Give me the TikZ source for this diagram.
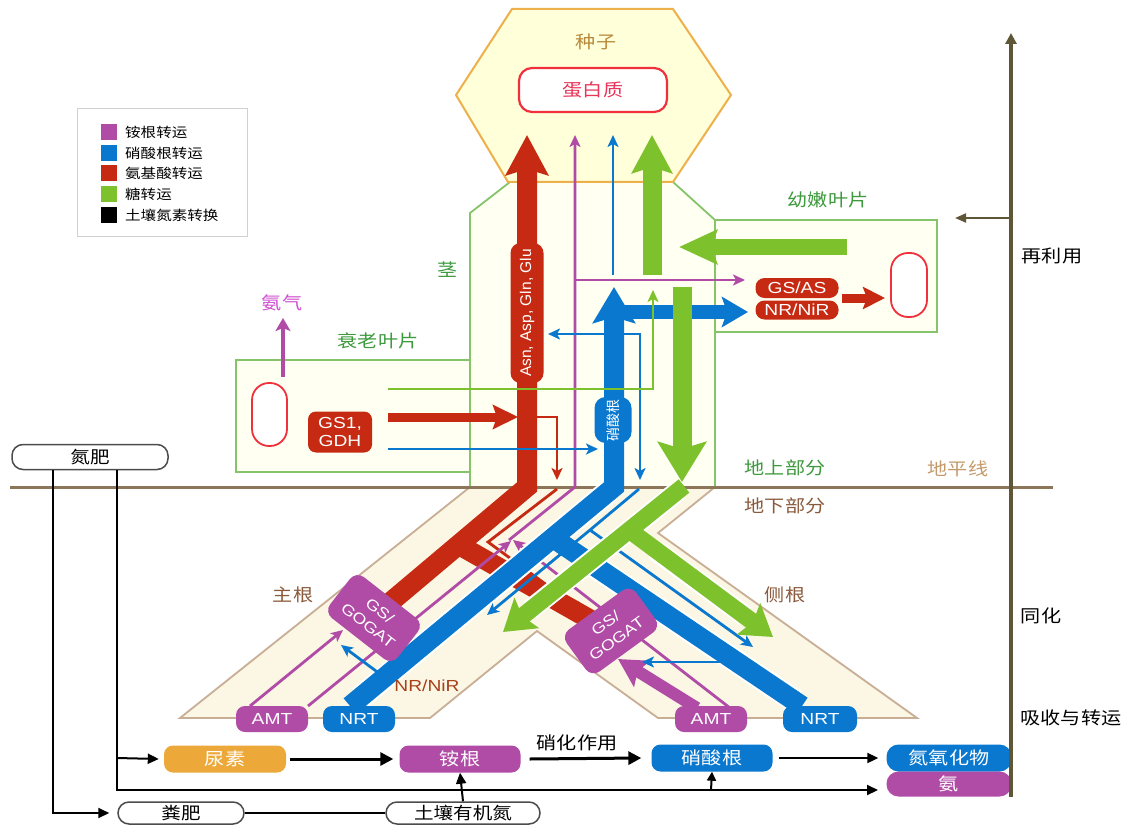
\documentclass[tikz,border=0pt]{standalone}
\usepackage{fontspec}
\usepackage{graphicx}
\setmainfont[FakeStretch=1.2]{Liberation Sans}
\newfontfamily\latn{Liberation Sans}
\newfontfamily\cjk[FakeStretch=1.15]{Noto Sans CJK SC}
\newfontfamily\cjkr{Noto Sans CJK SC}
\usetikzlibrary{arrows.meta}
\definecolor{cred}{HTML}{C62A12}
\definecolor{cblue}{HTML}{0A78CF}
\definecolor{cmag}{HTML}{B04CA6}
\definecolor{cgreen}{HTML}{7DC12C}
\definecolor{tgreen}{HTML}{3D9A3D}
\definecolor{tbrown}{HTML}{8B5A3C}
\definecolor{ttan}{HTML}{C49A6C}
\definecolor{seedfill}{HTML}{FFFFD9}
\definecolor{seededge}{HTML}{EDB04A}
\definecolor{stemfill}{HTML}{FFFFF2}
\definecolor{stemedge}{HTML}{86C46A}
\definecolor{rootfill}{HTML}{FBF7E4}
\definecolor{rootedge}{HTML}{C9AE96}
\definecolor{groundc}{HTML}{8C7558}
\definecolor{axisc}{HTML}{5E5636}
\definecolor{corange}{HTML}{ECA93A}
\definecolor{pinkred}{HTML}{E8365A}
\definecolor{goldc}{HTML}{B8893B}
\definecolor{ammc}{HTML}{D050D0}
\definecolor{nrbrown}{HTML}{A8401A}
\definecolor{vacred}{HTML}{F0303C}
\tikzset{
  cn/.style={font=\cjk\fontsize{17.5}{20}\selectfont, inner sep=0pt},
  cnl/.style={font=\cjk\fontsize{13.5}{16}\selectfont, inner sep=0pt, anchor=west},
  lt/.style={font=\fontsize{16}{18}\selectfont},
  pill/.style={rounded corners=9pt, inner sep=0pt, text=white},
  tipthin/.style={-{Stealth[length=12pt,width=11pt,inset=3pt]}},
  thinline/.style={line width=2.8pt, tipthin},
  soil/.style={draw=black!70, line width=1.5pt, fill=white, rounded corners=11pt, inner sep=0pt, font=\cjk\fontsize{17}{19}\selectfont},
  blk/.style={line width=2pt, draw=black},
  casing/.style={draw=white, line width=#1},
  gsbox/.style={pill, fill=cmag, align=center, minimum width=86pt, minimum height=52pt, rounded corners=10pt, font=\fontsize{15}{19}\selectfont},
}
\begin{document}
\begin{tikzpicture}[x=1pt,y=-1pt]
\useasboundingbox (0,0) rectangle (1126,826);
\fill[white] (0,0) rectangle (1126,826);

% ---------- legend ----------
\draw[black!18, line width=1pt] (77,109) rectangle (247,237);
\foreach \c/\t/\yy in {cmag/铵根转运/132, cblue/硝酸根转运/153, cred/氨基酸转运/173, cgreen/糖转运/194, black/土壤氮素转换/215} {
  \fill[\c] (101,\yy-8) rectangle (117,\yy+8);
  \node[cnl] (lg\yy) at (125,\yy) {\t};
}

% ---------- stem and leaves ----------
\draw[stemedge, fill=stemfill, line width=1.8pt] (236,360) rectangle (470,472);
\draw[stemedge, fill=stemfill, line width=1.8pt] (715,220) rectangle (937,332);
\draw[stemedge, fill=stemfill, line width=1.8pt] (510,182) -- (673,182) -- (715,220) -- (715,487) -- (470,487) -- (470,213) -- cycle;

% ---------- seed ----------
\draw[seededge, fill=seedfill, line width=2pt] (512,9) -- (673,9) -- (731,95) -- (673,182) -- (508,182) -- (456,95) -- cycle;
\node[cn, text=goldc] (seed) at (596,42) {种子};
\node[draw=vacred, line width=2.2pt, fill=white, rounded corners=13pt, minimum width=148pt, minimum height=44pt, inner sep=0pt, cn, text=pinkred] (prot) at (593,90) {蛋白质};

% ---------- roots ----------
\draw[rootedge, fill=rootfill, line width=1.8pt] (470,487) -- (715,487) -- (658,533) -- (917,718) -- (658,718) -- (537,631) -- (430,718) -- (180,718) -- cycle;

% ---------- ground line ----------
\draw[groundc, line width=3pt] (10,487) -- (1053,487);

% ---------- red (amino acids) ----------
\draw[cred, line width=20pt, -{Stealth[length=40pt,width=42pt,inset=6pt]}] (374,616) -- (527,487) -- (527,135);
\draw[cred, line width=20pt] (459,545) -- (612,632);
\draw[cred, line width=9pt, -{Stealth[length=25pt,width=24pt,inset=4pt]}] (388,417) -- (518,417);
\draw[cred, thinline] (527,417) -- (557,417) -- (557,480);
\draw[cred, thinline] (557,489) -- (488,542) -- (585,613);
\draw[cred, line width=9pt, -{Stealth[length=22pt,width=22pt,inset=4pt]}] (842,298) -- (885,298);

% ---------- magenta (ammonium) ----------
\draw[cmag, thinline] (509,540) -- (575,487) -- (575,135);
\draw[cmag, thinline] (575,280) -- (745,280);
\draw[cmag, thinline] (308,706) -- (511,541);
\draw[cmag, thinline] (250,706) -- (343,630);
\draw[cmag, thinline] (730,708) -- (513,540);
\draw[cmag, line width=12pt, -{Stealth[length=28pt,width=30pt,inset=5pt]}] (697,708) -- (618,659);
\draw[cmag, line width=4pt, -{Stealth[length=13pt,width=15pt,inset=3pt]}] (283,377) -- (283,318);

% ---------- blue (nitrate) ----------
\draw[casing=24pt] (608,492) -- (360,698);
\draw[cblue, line width=20pt, -{Stealth[length=36pt,width=42pt,inset=6pt]}] (350,706) -- (614,487) -- (614,287);
\draw[casing=24pt] (585,560) -- (795,701);
\draw[cblue, line width=20pt] (553,538) -- (802,706);
\draw[cblue, line width=14pt, -{Stealth[length=26pt,width=30pt,inset=5pt]}] (614,312) -- (748,312);
\draw[cblue, line width=2.8pt, {Stealth[length=12pt,width=11pt,inset=3pt]}-{Stealth[length=12pt,width=11pt,inset=3pt]}] (548,334) -- (640,334) -- (640,480);
\draw[cblue, thinline] (388,449) -- (598,449);
\draw[cblue, thinline] (613,275) -- (613,135);
\draw[cblue, thinline] (639,489) -- (590,530) -- (487,615);
\draw[cblue, thinline] (590,530) -- (753,647);
\draw[cblue, thinline] (380,674) -- (341,645);
\draw[cblue, thinline] (730,662) -- (642,662);

% ---------- green (sugar) ----------
\draw[cgreen, line width=19pt, -{Stealth[length=38pt,width=40pt,inset=6pt]}] (652,275) -- (652,135);
\draw[cgreen, line width=16pt, -{Stealth[length=38pt,width=34pt,inset=6pt]}] (847,247) -- (679,247);
\draw[cgreen, line width=19pt, -{Stealth[length=40pt,width=48pt,inset=7pt]}] (682,287) -- (682,482);
\draw[casing=21pt] (678,491) -- (530,610);
\draw[cgreen, line width=17pt, -{Stealth[length=30pt,width=38pt,inset=5pt]}] (684,486) -- (503,632);
\draw[casing=21pt] (655,550) -- (745,616);
\draw[cgreen, line width=17pt, -{Stealth[length=30pt,width=38pt,inset=5pt]}] (629,530) -- (773,637);
\draw[cgreen, thinline] (388,389) -- (653,389) -- (653,290);

% ---------- boxes on the flows ----------
\node[pill, fill=cred, font=\latn\fontsize{15.5}{17}\selectfont, rotate=90, minimum width=140pt, minimum height=33pt, rounded corners=10pt] (aa) at (527,313) {Asn, Asp, Gln, Glu};
\node[pill, fill=cblue, font=\cjkr\fontsize{14}{16}\selectfont, rotate=90, minimum width=46pt, minimum height=37pt, rounded corners=11pt] (nitlab) at (613,420) {硝酸根};
\node[pill, fill=cred, align=center, minimum width=64pt, minimum height=41pt, rounded corners=8pt, font=\fontsize{16}{18}\selectfont] (gs1) at (340,432) {GS1,\\GDH};
\node[pill, fill=cred, lt, minimum width=83pt, minimum height=20pt] (gsas) at (797,288) {GS/AS};
\node[pill, fill=cred, lt, minimum width=83pt, minimum height=19pt] (nrnir) at (797,310) {NR/NiR};
\node[draw=vacred, line width=1.8pt, fill=white, rounded corners=17pt, minimum width=36pt, minimum height=64pt] (vac2) at (909,285) {};
\node[draw=vacred, line width=1.8pt, fill=white, rounded corners=17pt, minimum width=35pt, minimum height=63pt] (vac1) at (269.5,414.5) {};

\node[gsbox, rotate=-38] (gsl) at (374,618) {GS/\\GOGAT};
\node[gsbox, rotate=36] (gsr) at (611,631) {GS/\\GOGAT};
\node[pill, fill=cmag, lt, minimum width=72pt, minimum height=26pt] (amtl) at (272,719) {AMT};
\node[pill, fill=cblue, lt, minimum width=72pt, minimum height=26pt] (nrtl) at (359,719) {NRT};
\node[pill, fill=cmag, lt, minimum width=72pt, minimum height=26pt] (amtr) at (711,719) {AMT};
\node[pill, fill=cblue, lt, minimum width=74pt, minimum height=26pt] (nrtr) at (820,719) {NRT};

% ---------- labels ----------
\node[cn, text=tgreen] (stemlab) at (448,270) {茎};
\node[cn, text=tgreen] (oldleaf) at (378,341) {衰老叶片};
\node[cn, text=tgreen] (youngleaf) at (828,200) {幼嫩叶片};
\node[cn, text=ammc] (nh3gas) at (282,303) {氨气};
\node[cn, text=tgreen] (above) at (785,468) {地上部分};
\node[cn, text=tbrown] (below) at (785,506) {地下部分};
\node[cn, text=ttan] (horizon) at (958,469) {地平线};
\node[cn, text=tbrown] (mainroot) at (293,595) {主根};
\node[cn, text=tbrown] (latroot) at (785,595) {侧根};
\node[lt, text=nrbrown, inner sep=0pt] (nrroot) at (427,686) {NR/NiR};
\node[cn] (reuse) at (1052,256) {再利用};
\node[cn] (assim) at (1041,616) {同化};
\node[cn] (uptake) at (1071,718) {吸收与转运};

% ---------- soil nitrogen ----------
\node[soil, minimum width=156pt, minimum height=25pt] (nf) at (90,457) {氮肥};
\node[soil, minimum width=126pt, minimum height=22pt] (manure) at (181,813) {粪肥};
\node[soil, minimum width=154pt, minimum height=22pt] (som) at (463,813) {土壤有机氮};
\node[pill, fill=corange, cn, text=white, minimum width=122pt, minimum height=27pt] (urea) at (225,759) {尿素};
\node[pill, fill=cmag, cn, text=white, minimum width=121pt, minimum height=27pt] (ammb) at (460,759) {铵根};
\node[pill, fill=cblue, cn, text=white, minimum width=121pt, minimum height=27pt] (nitb) at (712,758) {硝酸根};
\node[pill, fill=cblue, cn, text=white, minimum width=125pt, minimum height=27pt, rounded corners=12pt] (nox) at (949,758) {氮氧化物};
\node[pill, fill=cmag, cn, text=white, minimum width=125pt, minimum height=25pt, rounded corners=12pt] (nh3) at (949,784) {氨};

\draw[blk, -{Triangle[length=11pt,width=10pt]}] (53,470) -- (53,813) -- ([xshift=-8pt]manure.west);
\draw[blk, -{Triangle[length=11pt,width=10pt]}] (117,470) -- (117,790) -- (878,790);
\draw[blk, -{Triangle[length=11pt,width=10pt]}] (117,758) -- ([xshift=-5pt]urea.west);
\draw[line width=3pt, -{Triangle[length=13pt,width=13pt]}] ([xshift=4pt]urea.east) -- ([xshift=-6pt]ammb.west);
\draw[line width=3pt, -{Triangle[length=13pt,width=13pt]}] ([xshift=9pt]ammb.east) -- ([xshift=-10pt]nitb.west);
\node[cn] (nitrif) at (577,743) {硝化作用};
\draw[blk, -{Triangle[length=11pt,width=10pt]}] ([xshift=6pt]nitb.east) -- ([xshift=-8pt]nox.west);
\draw[blk] (manure.east) -- (som.west);
\draw[blk, -{Triangle[length=11pt,width=10pt]}] (som.north) -- (ammb.south);
\draw[blk, -{Triangle[length=9pt,width=9pt]}] (711,790) -- (nitb.south);

% ---------- right axis (on top) ----------
\draw[axisc, line width=3.5pt, -{Triangle[length=11pt,width=11pt]}] (1011,797) -- (1011,33);
\draw[axisc, line width=2pt, -{Triangle[length=11pt,width=9pt]}] (1011,218) -- (955,218);
\end{tikzpicture}
\end{document}
